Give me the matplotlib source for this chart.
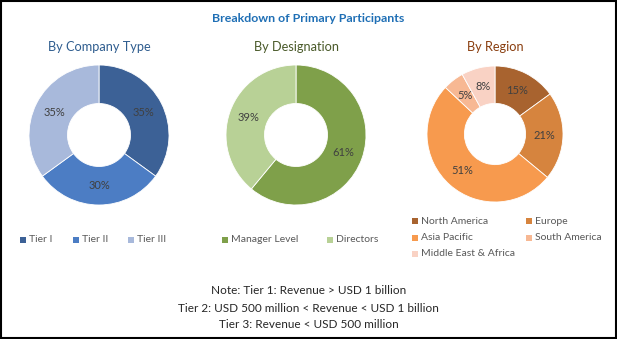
import matplotlib
matplotlib.use("Agg")
import matplotlib.pyplot as plt
from matplotlib.patches import Rectangle

plt.rcParams['font.family'] = ['Lato', 'DejaVu Sans']

title = "Breakdown of Primary Participants"

company_labels = ["Tier I", "Tier II", "Tier III"]
company_values = [35, 30, 35]
company_colors = ["#3C6196", "#4C7DC4", "#A8B9DB"]

desig_labels = ["Manager Level", "Directors"]
desig_values = [61, 39]
desig_colors = ["#7FA04A", "#B8D196"]

region_labels = ["North America", "Europe", "Asia Pacific", "South America", "Middle East & Africa"]
region_values = [15, 21, 51, 5, 8]
region_colors = ["#A8632F", "#D6843E", "#F79A4E", "#F7B893", "#F9D2C4"]

notes = ["Note: Tier 1: Revenue > USD 1 billion",
         "Tier 2: USD 500 million < Revenue < USD 1 billion",
         "Tier 3: Revenue < USD 500 million"]

W, H = 617, 339
fig = plt.figure(figsize=(W / 100, H / 100), dpi=100)
fig.patch.set_facecolor("white")

def fx(x):
    return x / W

def fy(y):
    return 1 - y / H

def donut(cx, cy, r, values, colors, subtitle, subcolor):
    ax = fig.add_axes([fx(cx - r), fy(cy + r), 2 * r / W, 2 * r / H])
    wedges, texts = ax.pie(values, colors=colors, startangle=90, counterclock=False,
                           radius=1.0, wedgeprops=dict(width=0.55, edgecolor="white", linewidth=0.6),
                           labels=[f"{v}%" for v in values], labeldistance=0.72,
                           textprops=dict(fontsize=8, color="#404040", ha="center", va="center"))
    for t in texts:
        t.set_ha("center")
    ax.set_xlim(-1, 1)
    ax.set_ylim(-1, 1)
    ax.set_aspect("equal")
    ax.axis("off")
    fig.text(fx(cx), fy(47), subtitle, ha="center", va="center", fontsize=9.2, color=subcolor)
    return ax

donut(99, 135, 70, company_values, company_colors, "By Company Type", "#2F5D8F")
donut(296, 135, 70, desig_values, desig_colors, "By Designation", "#4A5A2A")
donut(495, 134, 68, region_values, region_colors, "By Region", "#8A3F10")

fig.text(0.5, fy(18), title, ha="center", va="center", fontsize=8.9, fontweight="bold", color="#1F6FB5")

def legend_item(x, y, label, color):
    s = 6
    fig.patches.append(Rectangle((fx(x), fy(y + s / 2)), s / W, s / H, transform=fig.transFigure,
                                 facecolor=color, edgecolor="none"))
    fig.text(fx(x + 9), fy(y), label, ha="left", va="center", fontsize=7.5, color="#595959")

comp_x = [20, 73, 128]
for x, lab, c in zip(comp_x, company_labels, company_colors):
    legend_item(x, 240, lab, c)

des_x = [222, 327]
for x, lab, c in zip(des_x, desig_labels, desig_colors):
    legend_item(x, 240, lab, c)

reg_pos = [(412, 221), (526, 221), (412, 238), (526, 238), (412, 254)]
for (x, y), lab, c in zip(reg_pos, region_labels, region_colors):
    legend_item(x, y, lab, c)

for i, n in enumerate(notes):
    fig.text(0.5, fy(291 + 17 * i), n, ha="center", va="center", fontsize=8.5, color="#262626")

fig.patches.append(Rectangle((0.0015, 0.003), 0.997, 0.994, transform=fig.transFigure,
                             facecolor="none", edgecolor="black", linewidth=1.5))

fig.savefig("out.png", dpi=100)
